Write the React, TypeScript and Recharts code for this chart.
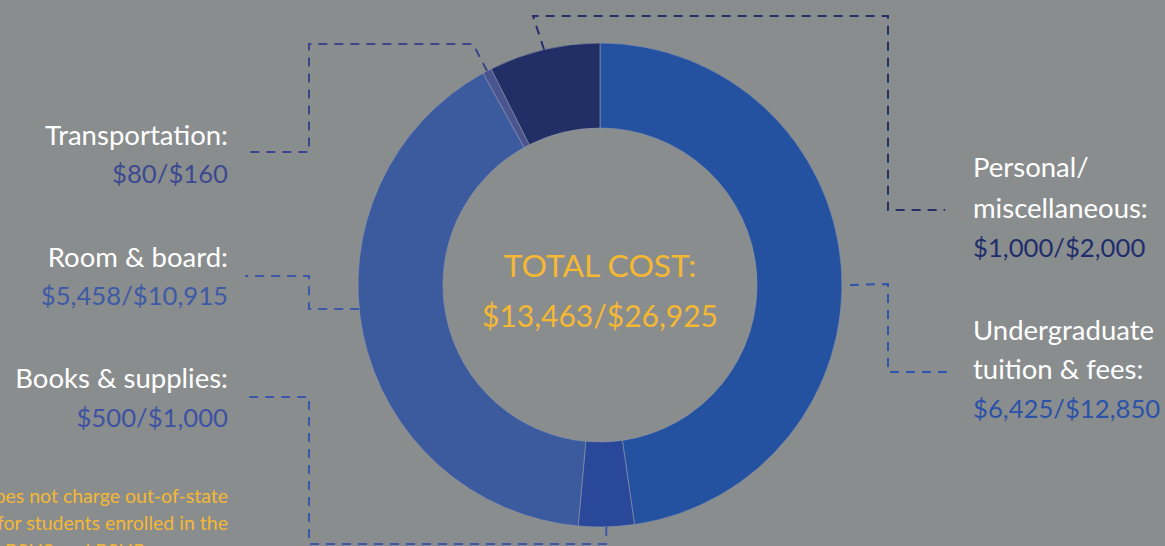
import React from "react";
import { PieChart, Pie, Cell } from "recharts";

// ---- data ----
const categories = [
  "Undergraduate tuition & fees",
  "Books & supplies",
  "Room & board",
  "Transportation",
  "Personal/miscellaneous",
];
const inStateCost = [6425, 500, 5458, 80, 1000];
const outOfStateCost = [12850, 1000, 10915, 160, 2000];
const labelLines: string[][] = [
  ["Undergraduate", "tuition & fees:"],
  ["Books & supplies:"],
  ["Room & board:"],
  ["Transportation:"],
  ["Personal/", "miscellaneous:"],
];
const footnoteLines = [
  "*LSU Health does not charge out-of-state",
  "tuition for students enrolled in the",
  "BSHS and BSHP",
];

// ---- styles ----
const sliceColors = ["#2451a0", "#29489a", "#3c5a9e", "#4a5590", "#222e66"];
const valueColors = ["#2a52a8", "#3d52a3", "#3d5aa6", "#3b4a90", "#1f2e6b"];
const leaderColors = ["#2a55b0", "#3c58a8", "#3c58a8", "#39468a", "#232f6a"];
const GOLD = "#f5b833";
const BG = "#8a8d8e";
const FONT = "Lato, 'Open Sans', sans-serif";
const LABEL_SIZE = 27.5;
const VALUE_SIZE = 25.7;

const W = 1165;
const H = 546;
const CX = 600;
const CY = 285;
const OUTER = 242;
const INNER = 157;

// leader layout: anchor angle (null = slice mid angle), elbow points, text placement
type Layout = {
  anchorAngle: number | null;
  anchorOffset: number;
  points: [number, number][];
  textX: number;
  anchor: "start" | "end";
  baselines: number[];
};
const layouts: Layout[] = [
  { anchorAngle: 0, anchorOffset: 8, points: [[888, 284], [888, 372], [950, 372]], textX: 973, anchor: "start", baselines: [340, 379, 418] },
  { anchorAngle: null, anchorOffset: 0, points: [[606, 544], [309, 544], [309, 397], [245, 397]], textX: 228, anchor: "end", baselines: [388, 427] },
  { anchorAngle: 185.7, anchorOffset: 0, points: [[309, 309], [309, 276], [245, 276]], textX: 228, anchor: "end", baselines: [267, 305] },
  { anchorAngle: null, anchorOffset: 0, points: [[473, 44], [309, 44], [309, 152], [245, 152]], textX: 228, anchor: "end", baselines: [145, 183] },
  { anchorAngle: null, anchorOffset: 0, points: [[533, 16], [888, 16], [888, 210], [945, 210]], textX: 973, anchor: "start", baselines: [177, 218, 257] },
];

const data = categories.map((name, i) => ({
  name,
  value: inStateCost[i],
  outValue: outOfStateCost[i],
}));

const fmt = (n: number) => "$" + n.toLocaleString("en-US");
const totalIn = inStateCost.reduce((a, b) => a + b, 0);
const totalOut = outOfStateCost.reduce((a, b) => a + b, 0);

const RAD = Math.PI / 180;
const polar = (cx: number, cy: number, r: number, angle: number) => ({
  x: cx + r * Math.cos(-angle * RAD),
  y: cy + r * Math.sin(-angle * RAD),
});

const renderLabel = (props: any) => {
  const { cx, cy, midAngle, outerRadius, index } = props;
  const lay = layouts[index];
  const angle = lay.anchorAngle === null ? midAngle : lay.anchorAngle;
  const a = polar(cx, cy, outerRadius + lay.anchorOffset, angle);
  const d =
    `M${a.x},${a.y} ` + lay.points.map(([x, y]) => `L${x},${y}`).join(" ");
  const lines = labelLines[index];
  return (
    <g key={`lbl-${index}`}>
      <path
        d={d}
        fill="none"
        stroke={leaderColors[index]}
        strokeWidth={2}
        strokeDasharray="9 7"
      />
      {lines.map((t, j) => (
        <text
          key={j}
          x={lay.textX}
          y={lay.baselines[j]}
          textAnchor={lay.anchor}
          fill="#ffffff"
          fontFamily={FONT}
          fontSize={LABEL_SIZE}
        >
          {t}
        </text>
      ))}
      <text
        x={lay.textX}
        y={lay.baselines[lines.length]}
        textAnchor={lay.anchor}
        fill={valueColors[index]}
        fontFamily={FONT}
        fontSize={VALUE_SIZE}
      >
        {fmt(inStateCost[index])}/{fmt(outOfStateCost[index])}
      </text>
      {index === 0 && (
        <g>
          <text x={cx} y={cy - 8} textAnchor="middle" fill={GOLD} fontFamily={FONT} fontSize={31.8}>
            TOTAL COST:
          </text>
          <text x={cx} y={cy + 42} textAnchor="middle" fill={GOLD} fontFamily={FONT} fontSize={30}>
            {fmt(totalIn)}/{fmt(totalOut)}
          </text>
          <text x={228} y={503} textAnchor="end" fill={GOLD} fontFamily={FONT} fontSize={19.5}>
            {footnoteLines[0]}
          </text>
          <text x={228} y={530} textAnchor="end" fill={GOLD} fontFamily={FONT} fontSize={19.5}>
            {footnoteLines[1]}
          </text>
          <text x={5} y={558} textAnchor="start" fill={GOLD} fontFamily={FONT} fontSize={19.5}>
            {footnoteLines[2]}
          </text>
        </g>
      )}
    </g>
  );
};

export default function App() {
  return (
    <div
      style={{
        position: "absolute",
        left: 0,
        top: 0,
        width: W,
        height: H,
        background: BG,
        overflow: "hidden",
      }}
    >
      <PieChart width={W} height={H} margin={{ top: 0, right: 0, bottom: 0, left: 0 }}>
        <Pie
          data={data}
          dataKey="value"
          nameKey="name"
          cx={CX}
          cy={CY}
          outerRadius={OUTER}
          innerRadius={INNER}
          startAngle={90}
          endAngle={-270}
          stroke="#8e97ab"
          strokeWidth={0.6}
          label={renderLabel}
          labelLine={false}
          isAnimationActive={false}
        >
          {data.map((d, i) => (
            <Cell key={d.name} fill={sliceColors[i]} />
          ))}
        </Pie>
      </PieChart>
    </div>
  );
}
